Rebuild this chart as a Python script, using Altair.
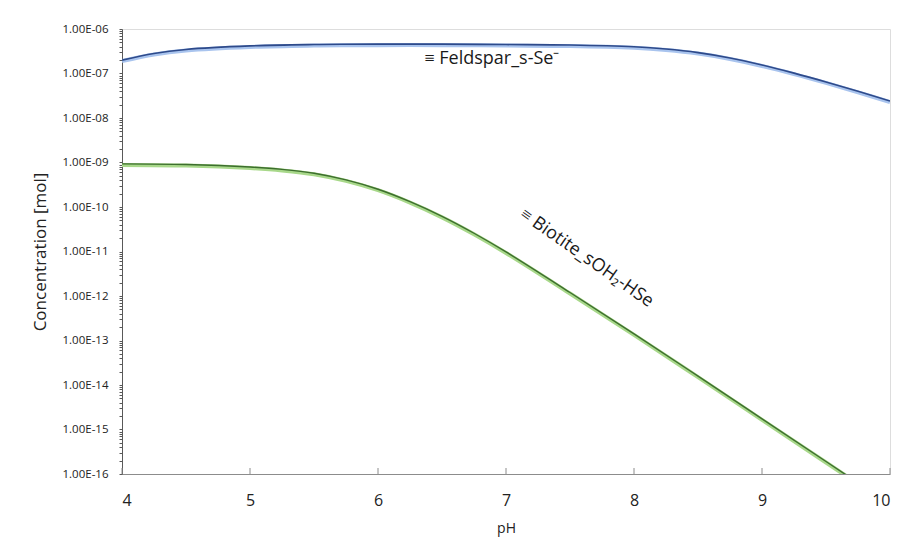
import altair as alt
import pandas as pd

# Feldspar_s-Se- (blue)
ph_feld = [4.0, 4.25, 4.5, 5.0, 5.5, 6.0, 6.5, 7.0, 7.5, 8.0, 8.25, 8.5, 8.75, 9.0, 9.25, 9.5, 9.75, 10.0]
conc_feld = [2.0e-7, 2.82e-7, 3.47e-7, 4.17e-7, 4.47e-7, 4.57e-7, 4.57e-7, 4.47e-7, 4.37e-7, 3.98e-7,
             3.55e-7, 2.95e-7, 2.24e-7, 1.55e-7, 1.02e-7, 6.46e-8, 3.98e-8, 2.4e-8]

# Biotite_sOH2-HSe (green)
ph_bio = [4.0, 4.5, 5.0, 5.25, 5.5, 5.75, 6.0, 6.25, 6.5, 6.75, 7.0, 7.5, 8.0, 8.5, 9.0, 9.5, 10.0]
conc_bio = [9.3e-10, 9.0e-10, 7.9e-10, 7.0e-10, 5.75e-10, 4.07e-10, 2.51e-10, 1.32e-10, 6.17e-11,
            2.57e-11, 9.77e-12, 1.2e-12, 1.41e-13, 1.58e-14, 1.74e-15, 1.91e-16, 2.09e-17]

x_ticks = [4, 5, 6, 7, 8, 9, 10]
y_tick_values = [m * 10.0 ** k for k in range(-16, -6) for m in range(1, 10)] + [1e-6]

labels_text = ["≡ Feldspar_s-Se⁻", "≡ Biotite_sOH₂-HSe"]
labels_ph = [6.89, 7.63]
labels_conc = [2.15e-7, 7.1e-12]
labels_angle = [0, 35]

FONT = "Open Sans"
W, H = 768, 445

df_f = pd.DataFrame({"pH": ph_feld, "c": conc_feld})
df_b = pd.DataFrame({"pH": ph_bio, "c": conc_bio})
df_t = pd.DataFrame({"pH": x_ticks})

label_expr = (
    "(abs(log(datum.value)/LN10 - round(log(datum.value)/LN10)) < 0.001) ? "
    "('1.00E-' + ((-round(log(datum.value)/LN10)) < 10 ? '0' : '') + (-round(log(datum.value)/LN10))) : ''"
)

xscale = alt.Scale(domain=[4, 10], nice=False, zero=False)
yscale = alt.Scale(type="log", domain=[1e-16, 1e-6], nice=False)

xenc = alt.X("pH:Q", scale=xscale,
             axis=alt.Axis(values=x_ticks, format="d", title="pH", grid=False, tickSize=0,
                           labelFontSize=16, labelPadding=18, labelColor="#222",
                           titleFontSize=14, titleFontWeight="normal", titlePadding=13,
                           titleColor="#222", domainColor="#8c8c8c", labelFont=FONT, titleFont=FONT))
yenc = alt.Y("c:Q", scale=yscale,
             axis=alt.Axis(values=y_tick_values, labelExpr=label_expr, title="Concentration [mol]",
                           grid=False, tickSize=3, tickColor="#595959", domainColor="#595959",
                           labelFontSize=11.5, labelPadding=11, labelColor="#222",
                           titleFontSize=17, titleFontWeight="normal", titlePadding=13,
                           titleColor="#222", labelFont=FONT, titleFont=FONT))

glow_f = alt.Chart(df_f).mark_line(color="#a9c4ee", strokeWidth=4, interpolate="catmull-rom",
                                   clip=True, yOffset=1).encode(x=xenc, y=yenc)
line_f = alt.Chart(df_f).mark_line(color="#2e4a8a", strokeWidth=1.6, interpolate="catmull-rom",
                                   clip=True).encode(x=xenc, y=yenc)
glow_b = alt.Chart(df_b).mark_line(color="#a8d88a", strokeWidth=4, interpolate="catmull-rom",
                                   clip=True, yOffset=1).encode(x=xenc, y=yenc)
line_b = alt.Chart(df_b).mark_line(color="#3d6e2e", strokeWidth=1.4, interpolate="catmull-rom",
                                   clip=True).encode(x=xenc, y=yenc)

xticks = alt.Chart(df_t).mark_rule(color="#8c8c8c", strokeWidth=1).encode(
    x=alt.X("pH:Q", scale=xscale), y=alt.value(H), y2=alt.value(H - 6))

texts = []
for t, p, c, a in zip(labels_text, labels_ph, labels_conc, labels_angle):
    d = pd.DataFrame({"pH": [p], "c": [c], "t": [t]})
    texts.append(alt.Chart(d).mark_text(font=FONT, fontSize=18, color="#1a1a1a", angle=a,
                                        align="center", baseline="middle").encode(
        x=alt.X("pH:Q", scale=xscale), y=alt.Y("c:Q", scale=yscale), text="t:N"))

chart = alt.layer(glow_f, line_f, glow_b, line_b, xticks, *texts).properties(
    width=W, height=H,
    padding={"left": 23, "top": 15, "right": 5, "bottom": 5},
).configure_view(stroke=None).configure(background="white")

chart.save("out.html", embed_options={"renderer": "svg", "actions": False})
